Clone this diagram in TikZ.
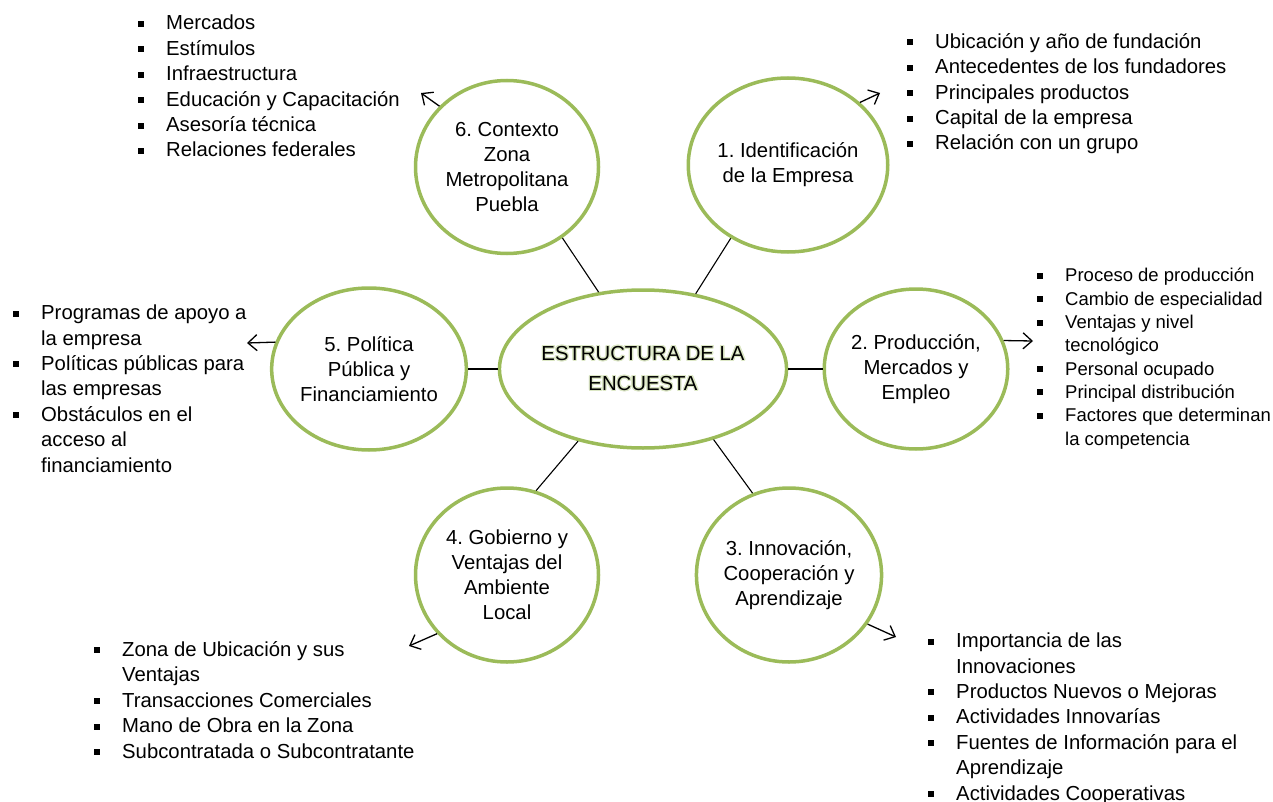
\documentclass[tikz,border=0pt]{standalone}
\usepackage{fontspec}
\setmainfont{Liberation Sans}
\usepackage[copies]{contour}
\usetikzlibrary{shapes.geometric,arrows.meta}
\definecolor{temagreen}{HTML}{9BBB59}
\newcommand{\bul}{\makebox[28pt][l]{\raisebox{3pt}{\rule{6pt}{6pt}}}}
\newcommand{\sig}{\hspace*{28pt}}
\newcommand{\brillo}[1]{\contour{temagreen!35}{#1}}
\contourlength{1.2pt}
\frenchspacing

\begin{document}
\begin{tikzpicture}[x=1pt,y=-1pt,
  tema/.style={ellipse, draw=temagreen, line width=3.5pt, fill=white, inner sep=0pt, align=center, font=\fontsize{20.3}{25}\selectfont},
  lista/.style={anchor=base west, align=left, inner sep=0pt, font=\fontsize{20.3}{25.4}\selectfont},
  enlace/.style={line width=1.1pt},
  flecha/.style={line width=1.3pt, -{Straight Barb[length=9pt,width=16pt]}}]
\useasboundingbox (0,0) rectangle (1273,802);

	\node[tema, minimum width=268pt, minimum height=158pt, font=\fontsize{20.3}{30}\selectfont] (ctr) at (643,369) {\brillo{ESTRUCTURA DE LA}\\\brillo{ENCUESTA}};
	
	\node[tema, minimum width=183pt, minimum height=173pt] (c6) at (507,167) {6. Contexto\\Zona\\Metropolitana\\Puebla};
	\node[tema, minimum width=185pt, minimum height=174pt] (c1) at (788,165) {1. Identificación\\de la Empresa};
	\node[tema, minimum width=186pt, minimum height=162pt] (c5) at (369,369) {5. Política\\Pública y\\Financiamiento};
	\node[tema, minimum width=174pt, minimum height=160pt] (c2) at (916,369) {2. Producción,\\Mercados y\\Empleo};
	\node[tema, minimum width=183pt, minimum height=174pt] (c4) at (507,575) {4. Gobierno y\\Ventajas del\\Ambiente\\Local};
	\node[tema, minimum width=177pt, minimum height=174pt] (c3) at (789,575) {3. Innovación,\\Cooperación y\\Aprendizaje};
	
	\node[lista] (l6) at (138,157) {\bul Mercados\\\bul Estímulos\\\bul Infraestructura\\\bul Educación y Capacitación\\\bul Asesoría técnica\\\bul Relaciones federales};
	\node[lista] (l1) at (907,150) {\bul Ubicación y año de fundación\\\bul Antecedentes de los fundadores\\\bul Principales productos\\\bul Capital de la empresa\\\bul Relación con un grupo};
	\node[lista, font=\fontsize{18.5}{23.3}\selectfont] (l2) at (1037,445) {\bul Proceso de producción\\\bul Cambio de especialidad\\\bul Ventajas y nivel\\\sig tecnológico\\\bul Personal ocupado\\\bul Principal distribución\\\bul Factores que determinan\\\sig la competencia};
	\node[lista] (l5) at (13,472) {\bul Programas de apoyo a\\\sig la empresa\\\bul Políticas públicas para\\\sig las empresas\\\bul Obstáculos en el\\\sig acceso al\\\sig financiamiento};
	\node[lista] (l4) at (94,758) {\bul Zona de Ubicación y sus\\\sig Ventajas\\\bul Transacciones Comerciales\\\bul Mano de Obra en la Zona\\\bul Subcontratada o Subcontratante};
	\node[lista] (l3) at (928,800) {\bul Importancia de las\\\sig Innovaciones\\\bul Productos Nuevos o Mejoras\\\bul Actividades Innovarías\\\bul Fuentes de Información para el\\\sig Aprendizaje\\\bul Actividades Cooperativas};
	
	\coordinate (a6) at (421,93);
	\coordinate (a1) at (880,93);
	\coordinate (a2) at (1033,341);
	\coordinate (a5) at (247,343);
	\coordinate (a4) at (409,646);
	\coordinate (a3) at (896,637);
	
	\draw[enlace] (ctr.120) -- (c6.308);
	\draw[enlace] (ctr.55) -- (c1.232);
	\draw[enlace] (ctr.west) -- (c5.east);
	\draw[enlace] (ctr.east) -- (c2.west);
	\draw[enlace] (ctr.228) -- (c4.71);
	\draw[enlace] (ctr.315) -- (c3.114);
	
	\draw[flecha] (c6.138) -- (a6);
	\draw[flecha] (c1.41) -- (a1);
	\draw[flecha] (c2.18) -- (a2);
	\draw[flecha] (c5.164) -- (a5);
	\draw[flecha] (c4.220) -- (a4);
	\draw[flecha] (c3.328) -- (a3);

\end{tikzpicture}
\end{document}
